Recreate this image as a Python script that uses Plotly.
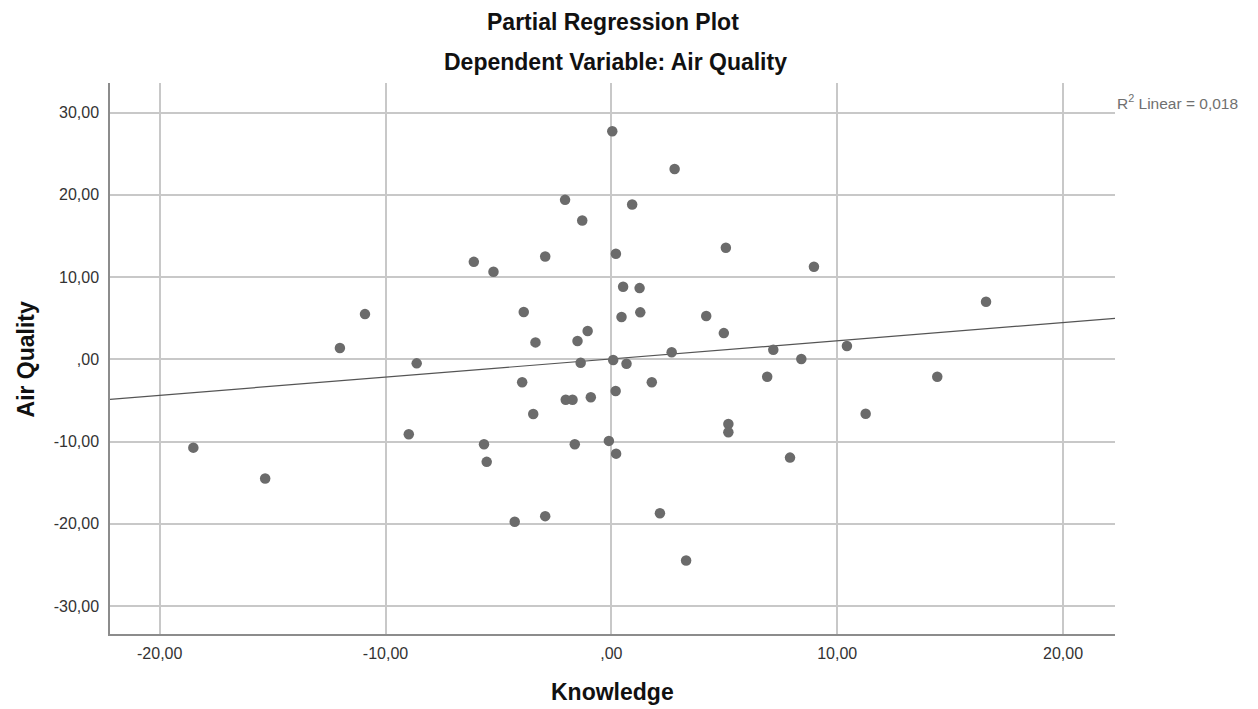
import plotly.graph_objects as go

# Data (Knowledge vs Air Quality partial residuals)
knowledge = [0.04, 2.80, -2.05, 0.92, -1.29, -6.09, -5.22, -2.93, 0.20, 5.07,
             0.52, 1.25, -3.88, 0.45, 1.28, 4.20, 4.98, -1.05, -3.36, -1.50,
             2.67, -8.62, -1.36, 0.08, 0.67, -3.95, 1.79, 0.19, -2.02, -1.72,
             -0.91, -3.46, -8.97, -5.64, -5.52, -1.62, -0.11, 0.21, 5.18, 5.18,
             -4.28, -2.93, 2.15, 3.31, 8.97, 7.17, 8.41, 6.90, 10.43, 16.59,
             14.43, 11.26, 7.91, -10.91, -12.02, -18.51, -15.33]
air_quality = [27.73, 23.15, 19.39, 18.83, 16.88, 11.85, 10.64, 12.51, 12.83, 13.56,
               8.82, 8.66, 5.75, 5.14, 5.71, 5.26, 3.19, 3.44, 2.06, 2.22,
               0.85, -0.49, -0.41, -0.09, -0.53, -2.79, -2.79, -3.85, -4.91, -4.91,
               -4.62, -6.64, -9.11, -10.32, -12.47, -10.32, -9.92, -11.47, -7.86, -8.87,
               -19.76, -19.07, -18.71, -24.46, 11.25, 1.17, 0.04, -2.11, 1.62, 7.00,
               -2.11, -6.61, -11.95, 5.50, 1.37, -10.74, -14.50]

fit_x = [-22.2, 22.3]
fit_y = [-4.86, 4.98]

x_tickvals = [-20, -10, 0, 10, 20]
x_ticktext = ["-20,00", "-10,00", ",00", "10,00", "20,00"]
y_tickvals = [30, 20, 10, 0, -10, -20, -30]
y_ticktext = ["30,00", "20,00", "10,00", ",00", "-10,00", "-20,00", "-30,00"]

title_text = "Partial Regression Plot"
subtitle_text = "Dependent Variable: Air Quality"
x_title = "Knowledge"
y_title = "Air Quality"
r2_text = "R<sup>2</sup> Linear = 0,018"

FONT = "Liberation Sans, Arial, sans-serif"

fig = go.Figure()
fig.add_trace(go.Scatter(
    x=fit_x, y=fit_y, mode="lines",
    line=dict(color="#555555", width=1.2),
    hoverinfo="skip", showlegend=False))
fig.add_trace(go.Scatter(
    x=knowledge, y=air_quality, mode="markers",
    marker=dict(color="#6b6b6b", size=10.5, line=dict(width=0)),
    showlegend=False))

fig.update_layout(
    width=1258, height=709,
    margin=dict(l=110, r=143, t=83, b=75),
    paper_bgcolor="white", plot_bgcolor="white",
    font=dict(family=FONT, color="#333333"),
    xaxis=dict(range=[-22.2, 22.3], tickvals=x_tickvals, ticktext=x_ticktext,
               showgrid=True, gridcolor="#c8c8c8", gridwidth=1.5,
               zeroline=False, showline=True, linecolor="#8c8c8c", linewidth=1.5,
               ticks="", tickfont=dict(size=16, color="#333333"),
               ticklabelstandoff=4),
    yaxis=dict(range=[-33.4, 33.6], tickvals=y_tickvals, ticktext=y_ticktext,
               showgrid=True, gridcolor="#c8c8c8", gridwidth=1.5,
               zeroline=False, showline=True, linecolor="#8c8c8c", linewidth=1.5,
               ticks="", tickfont=dict(size=16, color="#333333"),
               ticklabelstandoff=6),
    annotations=[
        dict(text=title_text, xref="paper", yref="paper", x=0.5, y=1.1107,
             xanchor="center", yanchor="middle", showarrow=False,
             font=dict(size=23, color="#111111", family=FONT, weight="bold")),
        dict(text=subtitle_text, xref="paper", yref="paper", x=0.503, y=1.038,
             xanchor="center", yanchor="middle", showarrow=False,
             font=dict(size=23, color="#111111", family=FONT, weight="bold")),
        dict(text=x_title, xref="paper", yref="paper", x=0.5, y=-0.1053,
             xanchor="center", yanchor="middle", showarrow=False,
             font=dict(size=23, color="#111111", family=FONT, weight="bold")),
        dict(text=y_title, xref="paper", yref="paper", x=-0.0836, y=0.5,
             xanchor="center", yanchor="middle", showarrow=False, textangle=-90,
             font=dict(size=23, color="#111111", family=FONT, weight="bold")),
        dict(text=r2_text, xref="paper", yref="paper", x=1.0, y=0.966,
             xanchor="left", yanchor="middle", showarrow=False,
             font=dict(size=15.5, color="#707070", family=FONT)),
    ],
)

fig.write_html("out.html",
               config={"displayModeBar": False},
               post_script="document.body.style.margin='0';document.body.style.padding='0';")
